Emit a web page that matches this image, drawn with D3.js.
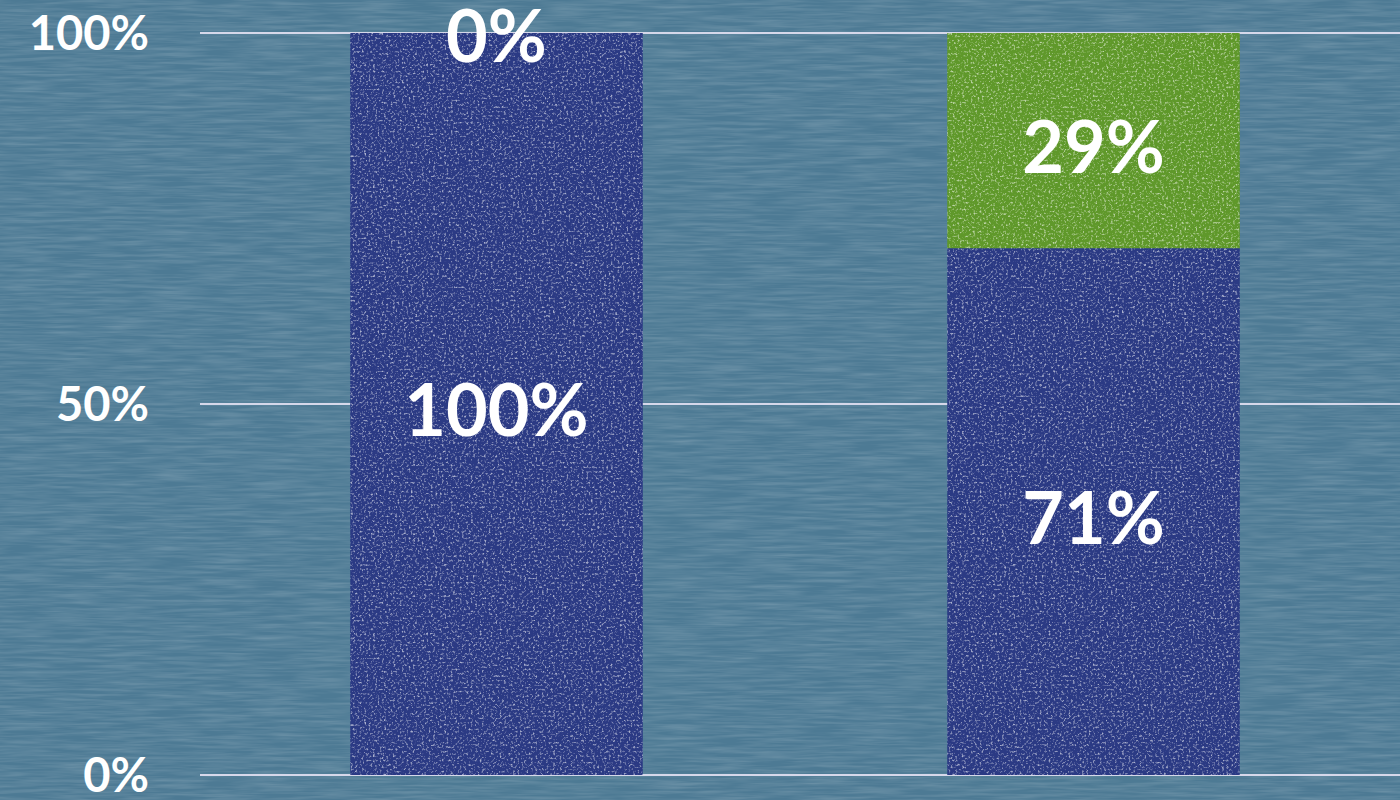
<!DOCTYPE html>
<html>
<head>
<meta charset="utf-8">
<script src="https://cdn.jsdelivr.net/npm/d3@7"></script>
<style>
  body { margin: 0; background: #4e7b95; overflow: hidden; }
  text { font-family: 'Lato', 'Open Sans', sans-serif; fill: #ffffff; }
</style>
</head>
<body>
<svg id="chart"></svg>
<script>
const width = 1400;
const height = 800;

// data
const categories = ['A', 'B'];
const bottomValues = [1.00, 0.71];
const topValues = [0.00, 0.29];
const tickValues = [0, 0.5, 1];
const tickLabels = ['0%', '50%', '100%'];

const colors = { bottom: '#2b3a84', top: '#5f982a' };

const svg = d3.select('#chart')
    .attr('width', width)
    .attr('height', height);

// chalk-ish texture
const defs = svg.append('defs');
const bgNoise = defs.append('filter').attr('id', 'bgnoise')
    .attr('x', 0).attr('y', 0).attr('width', '100%').attr('height', '100%');
bgNoise.append('feTurbulence')
    .attr('type', 'fractalNoise')
    .attr('baseFrequency', '0.02 0.35')
    .attr('numOctaves', 3)
    .attr('seed', 4);
bgNoise.append('feColorMatrix')
    .attr('values', '0 0 0 0 1  0 0 0 0 1  0 0 0 0 1  0 0 0 0.28 -0.09');

const speck = defs.append('filter').attr('id', 'speck')
    .attr('x', 0).attr('y', 0).attr('width', '100%').attr('height', '100%');
speck.append('feTurbulence')
    .attr('type', 'fractalNoise')
    .attr('baseFrequency', 0.45)
    .attr('numOctaves', 2)
    .attr('seed', 7);
speck.append('feColorMatrix')
    .attr('values', '0 0 0 0 1  0 0 0 0 1  0 0 0 0 1  0 0 0 3.4 -1.8');
speck.append('feComposite').attr('in2', 'SourceGraphic').attr('operator', 'in');

svg.append('rect')
    .attr('width', width).attr('height', height)
    .attr('fill', '#4d7a94');
svg.append('rect')
    .attr('width', width).attr('height', height)
    .attr('filter', 'url(#bgnoise)');

const x = d3.scaleBand()
    .domain(categories)
    .range([195, 1395])
    .paddingInner(0.51)
    .paddingOuter(0.26);

const y = d3.scaleLinear()
    .domain([0, 1])
    .range([775, 33]);

// gridlines
svg.append('g')
    .selectAll('line')
    .data(tickValues)
    .enter().append('line')
    .attr('x1', 200)
    .attr('x2', 1400)
    .attr('y1', d => y(d))
    .attr('y2', d => y(d))
    .attr('stroke', '#d6d8ea')
    .attr('stroke-width', 2);

// tick labels
svg.append('g')
    .selectAll('text')
    .data(tickValues)
    .enter().append('text')
    .attr('x', 149)
    .attr('y', d => y(d))
    .attr('dy', '0.37em')
    .attr('text-anchor', 'end')
    .style('font-size', '47px')
    .style('font-weight', 700)
    .text((d, i) => tickLabels[i]);

const stacked = categories.map((c, i) => ({
    cat: c,
    segs: [
        { key: 'bottom', y0: 0, y1: bottomValues[i], v: bottomValues[i] },
        { key: 'top', y0: bottomValues[i], y1: bottomValues[i] + topValues[i], v: topValues[i] }
    ]
}));

const bars = svg.append('g')
    .selectAll('g')
    .data(stacked)
    .enter().append('g');

bars.selectAll('rect.seg')
    .data(d => d.segs.map(s => ({ ...s, cat: d.cat })))
    .enter().append('rect')
    .attr('class', 'seg')
    .attr('x', d => x(d.cat))
    .attr('width', x.bandwidth())
    .attr('y', d => y(d.y1))
    .attr('height', d => y(d.y0) - y(d.y1))
    .attr('fill', d => colors[d.key]);

// white chalk speckles on the bars
bars.selectAll('rect.speck')
    .data(d => d.segs.filter(s => s.v > 0).map(s => ({ ...s, cat: d.cat })))
    .enter().append('rect')
    .attr('class', 'speck')
    .attr('x', d => x(d.cat))
    .attr('width', x.bandwidth())
    .attr('y', d => y(d.y1))
    .attr('height', d => y(d.y0) - y(d.y1))
    .attr('fill', '#fff')
    .attr('opacity', 0.6)
    .attr('filter', 'url(#speck)');

bars.selectAll('text')
    .data(d => d.segs.map(s => ({ ...s, cat: d.cat })))
    .enter().append('text')
    .attr('x', d => x(d.cat) + x.bandwidth() / 2)
    .attr('y', d => y((d.y0 + d.y1) / 2))
    .attr('dy', d => d.v === 0 ? '0.4em' : '0.45em')
    .attr('text-anchor', 'middle')
    .style('font-size', '72px')
    .style('font-weight', 700)
    .text(d => Math.round(d.v * 100) + '%');
</script>
</body>
</html>
